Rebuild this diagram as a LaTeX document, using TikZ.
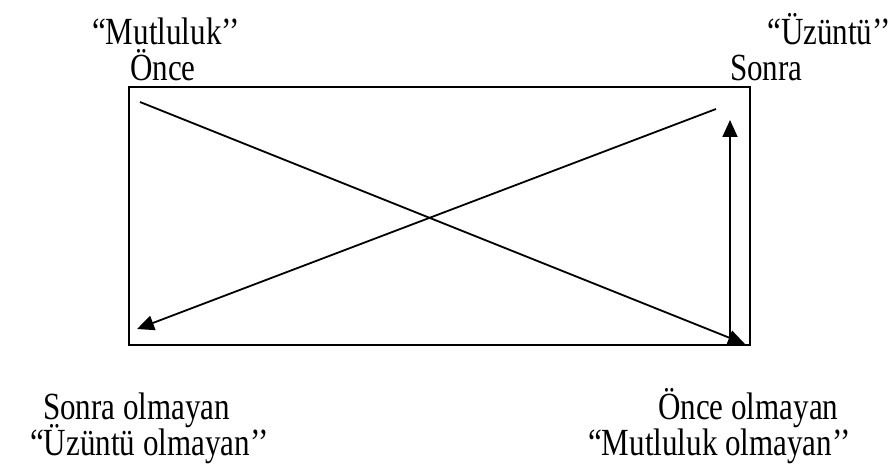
\documentclass[tikz,border=0pt]{standalone}
\usepackage{graphicx}
\usepackage{fontspec}
\setmainfont{Liberation Serif}
\usetikzlibrary{arrows.meta}
\newcommand{\tallt}[1]{\scalebox{0.97}[1.2]{#1}}
\begin{document}
\begin{tikzpicture}[x=1pt,y=-1pt,
  lbl/.style={anchor=base west,inner sep=0pt,font=\fontsize{32}{40}\selectfont},
  conn/.style={line width=1.8pt,-{Triangle[length=17pt,width=15pt]}}]
\useasboundingbox (0,0) rectangle (894,468);
% frame
\node[draw,line width=2pt,minimum width=621pt,minimum height=258pt,inner sep=0pt] (frame) at (439.5,216) {};
% labels
\node[lbl] (mut) at (92,45) {\tallt{“Mutluluk’’}};
\node[lbl,anchor=base east] (uzu) at (891,45) {\tallt{“Üzüntü’’}};
\node[lbl] (once) at (130,81) {\tallt{Önce}};
\node[lbl] (sonra) at (730,81) {\tallt{Sonra}};
\node[lbl] (sonraol) at (43,419) {\tallt{Sonra olmayan}};
\node[lbl] (uzuol) at (30,455) {\tallt{“Üzüntü olmayan’’}};
\node[lbl] (onceol) at (658,419) {\tallt{Önce olmayan}};
\node[lbl] (mutol) at (588,455) {\tallt{“Mutluluk olmayan’’}};
% connector end points
\coordinate (a1) at (140,102);
\coordinate (a2) at (745,344);
\coordinate (b1) at (716,109);
\coordinate (b2) at (137,329);
\coordinate (c1) at (730,340);
\coordinate (c2) at (730,120);
\draw[conn] (a1) -- (a2);
\draw[conn] (b1) -- (b2);
\draw[conn] (c1) -- (c2);
\end{tikzpicture}
\end{document}
